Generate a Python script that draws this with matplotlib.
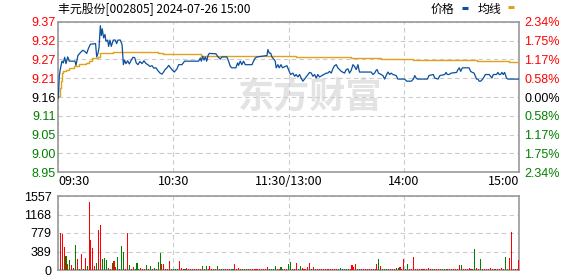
import numpy as np
import matplotlib
matplotlib.use('Agg')
import matplotlib.pyplot as plt
from matplotlib.lines import Line2D

# --- data ---
title = '丰元股份[002805] 2024-07-26 15:00'
prev_close = 9.16
price_range = 0.2143
price_ticklabels = ['8.95', '9.00', '9.05', '9.11', '9.16', '9.21', '9.27', '9.32', '9.37']
pct_ticklabels = ['2.34%', '1.75%', '1.17%', '0.58%', '0.00%', '0.58%', '1.17%', '1.75%', '2.34%']
time_ticks = [0, 60, 120, 180, 240]
time_labels = ['09:30', '10:30', '11:30/13:00', '14:00', '15:00']
vol_ticks = [0, 389, 779, 1168, 1557]

# price line vertices (minute from 09:30, price)
price_t = [0, 0.5, 1.0, 1.9, 2.6, 3.3, 4.0, 4.9, 5.7, 8.7, 9.2, 10.2, 11.3, 12.7, 13.7,
           14.8, 15.6, 16.7, 19.4, 20.0, 20.7, 21.2, 21.9, 22.4, 22.9, 23.6, 24.3, 24.8,
           25.7, 26.2, 26.9, 27.6, 28.6, 29.7, 30.4, 31.1, 32.3, 33.2, 33.9, 34.5, 35.2,
           36.1, 37.0, 37.8, 38.9, 39.8, 40.6, 41.5, 42.5, 43.6, 44.6, 45.7, 46.7, 47.7,
           48.8, 49.8, 50.9, 51.9, 53.0, 54.0, 54.7, 55.6, 56.6, 57.5, 58.3, 59.2, 60.4,
           61.8, 62.7, 64.4, 65.8, 73.1, 74.0, 74.5, 75.2, 75.9, 76.6, 77.3, 78.0, 78.6,
           82.1, 83.2, 84.4, 85.2, 87.8, 88.7, 89.6, 90.4, 92.5, 93.4, 93.9, 94.8, 95.6,
           96.5, 97.4, 100.9, 101.7, 102.6, 103.5, 108.7, 109.2, 109.9, 110.6, 111.3,
           112.2, 113.0, 113.5, 114.4, 115.1, 116.0, 116.8, 118.2, 119.1, 119.9,
           121.0, 122.2, 123.1, 123.9, 124.8, 125.7, 126.5, 127.4, 128.3, 129.1, 130.0,
           130.9, 131.8, 132.6, 133.5, 134.4, 135.2, 136.1, 138.4, 139.6, 140.4, 141.3,
           142.2, 143.0, 143.9, 144.8, 145.6, 146.5, 147.4, 149.1, 150.0, 150.9, 151.7,
           152.6, 153.5, 154.3, 155.2, 156.1, 156.9, 163.0, 163.9, 164.8, 165.6, 166.1,
           166.8, 167.5, 168.2, 169.1, 170.0, 170.8, 171.7, 172.6, 173.4, 174.3, 176.0,
           176.9, 180.4, 181.5, 183.9, 185.0, 185.7, 186.4, 187.1, 192.3, 193.1, 195.4,
           196.1, 197.8, 198.8, 201.3, 202.0, 202.7, 203.5, 204.7, 207.5, 208.2, 208.9,
           209.6, 210.5, 214.0, 214.8, 215.7, 216.6, 217.3, 217.9, 218.6, 219.3, 220.0,
           221.1, 221.8, 222.5, 224.5, 225.2, 225.9, 226.6, 228.3, 229.0, 229.7, 230.4,
           231.1, 231.8, 232.5, 233.5, 234.2, 240]
price_v = [9.157, 9.219, 9.238, 9.262, 9.257, 9.273, 9.255, 9.274, 9.262, 9.262, 9.250,
           9.278, 9.285, 9.293, 9.290, 9.284, 9.297, 9.310, 9.312, 9.274, 9.285, 9.300,
           9.363, 9.335, 9.354, 9.328, 9.338, 9.319, 9.322, 9.304, 9.322, 9.304, 9.322,
           9.322, 9.312, 9.322, 9.322, 9.309, 9.252, 9.265, 9.255, 9.263, 9.254, 9.263,
           9.273, 9.272, 9.257, 9.252, 9.261, 9.255, 9.263, 9.255, 9.252, 9.247, 9.249,
           9.242, 9.243, 9.235, 9.228, 9.225, 9.230, 9.238, 9.243, 9.250, 9.244, 9.238,
           9.231, 9.240, 9.252, 9.252, 9.262, 9.262, 9.271, 9.262, 9.276, 9.265, 9.274,
           9.262, 9.278, 9.284, 9.283, 9.274, 9.268, 9.274, 9.274, 9.262, 9.247, 9.243,
           9.243, 9.257, 9.250, 9.262, 9.252, 9.262, 9.252, 9.252, 9.262, 9.271, 9.274,
           9.278, 9.295, 9.285, 9.285, 9.274, 9.268, 9.262, 9.243, 9.252, 9.243, 9.252,
           9.243, 9.247, 9.249, 9.238,
           9.224, 9.228, 9.219, 9.224, 9.217, 9.224, 9.214, 9.205, 9.211, 9.217, 9.224,
           9.230, 9.228, 9.219, 9.224, 9.214, 9.224, 9.217, 9.224, 9.228, 9.228, 9.233,
           9.228, 9.240, 9.249, 9.252, 9.243, 9.238, 9.233, 9.228, 9.238, 9.240, 9.228,
           9.236, 9.252, 9.247, 9.238, 9.252, 9.231, 9.231, 9.224, 9.228, 9.236, 9.238,
           9.228, 9.226, 9.224, 9.221, 9.211, 9.221, 9.231, 9.224, 9.228, 9.224, 9.221,
           9.211, 9.211, 9.205, 9.205, 9.211, 9.221, 9.214, 9.211, 9.211, 9.221, 9.224,
           9.214, 9.211, 9.221, 9.224, 9.230, 9.224, 9.224, 9.228, 9.230, 9.238, 9.243,
           9.233, 9.243, 9.243, 9.233, 9.230, 9.228, 9.219, 9.211, 9.211, 9.205, 9.205,
           9.211, 9.217, 9.224, 9.224, 9.219, 9.214, 9.224, 9.224, 9.230, 9.224, 9.224,
           9.230, 9.224, 9.230, 9.214, 9.211, 9.211]

# average price line (drawn as steps)
avg_t = [0, 0.9, 1.4, 1.9, 2.6, 4.0, 5.7, 8.3, 10.9, 14.4, 16.1, 17.4, 20.5, 21.7, 23.1,
         28.3, 39.6, 51.7, 54.3, 74.5, 123.9, 152.6, 168.0, 185.0, 218.0, 235.0, 240]
avg_v = [9.162, 9.186, 9.205, 9.227, 9.233, 9.238, 9.242, 9.247, 9.253, 9.256, 9.263,
         9.271, 9.273, 9.284, 9.285, 9.288, 9.287, 9.284, 9.282, 9.278, 9.275, 9.272,
         9.268, 9.265, 9.263, 9.260, 9.260]

# volume per minute (minutes 1..240) and direction r=up g=down
volume = [785, 757, 484, 294, 126, 210, 105, 35, 526, 231,
          20, 336, 20, 252, 84, 1423, 631, 470, 84, 147,
          841, 946, 231, 252, 210, 42, 28, 147, 189, 63,
          273, 20, 505, 378, 20, 778, 105, 20, 63, 20,
          147, 20, 42, 20, 20, 105, 20, 84, 20, 42,
          20, 168, 357, 126, 126, 20, 30, 189, 20, 20,
          20, 28, 189, 42, 20, 20, 42, 20, 20, 20,
          20, 20, 20, 20, 84, 20, 84, 20, 84, 20,
          20, 20, 84, 20, 20, 20, 20, 20, 20, 20,
          20, 126, 20, 42, 20, 20, 20, 28, 20, 20,
          20, 20, 20, 20, 20, 20, 20, 20, 63, 20,
          20, 20, 84, 20, 20, 63, 20, 20, 20, 126,
          168, 20, 20, 147, 20, 84, 42, 20, 20, 63,
          147, 20, 63, 20, 20, 20, 20, 20, 20, 20,
          20, 20, 20, 20, 20, 20, 42, 20, 20, 20,
          20, 20, 105, 63, 126, 20, 20, 20, 20, 20,
          20, 20, 20, 20, 20, 126, 231, 84, 20, 20,
          20, 20, 20, 20, 20, 42, 42, 63, 20, 231,
          20, 126, 20, 20, 273, 20, 20, 20, 20, 20,
          20, 20, 42, 20, 20, 20, 20, 20, 20, 20,
          20, 20, 20, 20, 20, 20, 20, 20, 105, 105,
          20, 20, 20, 42, 20, 20, 441, 42, 20, 231,
          20, 20, 20, 20, 42, 20, 20, 20, 20, 20,
          42, 20, 273, 20, 252, 799, 20, 20, 20, 210]
direction = ('rrrgrgrrgr' 'grgrgrrrrg' 'rrgggrrgrr' 'grggrrgrrg' 'ggrrrgrgrg'
             'rggrrrrrgg' 'ggrrrgrrrr' 'rrrrgrgrrr' 'rrgrggrrrg' 'grrrrgggrr'
             'rrrrrrrrrg' 'gggrrgrrrg' 'grrrggrrrr' 'rgrgrrrrrr' 'rrrrrggggr'
             'grrrrggrrr' 'rrrrrrgrgg' 'grrrrggrrr' 'ggrrrrrrrr' 'rrrrgrrrrg'
             'ggrrrrrrrg' 'rrrrrggrrg' 'rrrrrrrgrr' 'rrggrrrrrr')

# --- figure ---
plt.rcParams['font.family'] = ['Liberation Sans', 'Noto Sans CJK SC', 'DejaVu Sans']
fig = plt.figure(figsize=(5.78, 2.76), dpi=100)
fig.patch.set_facecolor('white')

RED = '#ff0000'
GREEN = '#008000'
BORDER = '#999999'
GRID = '#cccccc'


def label_color(i, n):
    mid = n // 2
    if i > mid:
        return RED
    if i < mid:
        return GREEN
    return 'black'


ax = fig.add_axes([0.1009, 0.3757, 0.797, 0.5457])
ax.set_xlim(0, 240)
ax.set_ylim(prev_close - price_range, prev_close + price_range)
yt = np.linspace(prev_close - price_range, prev_close + price_range, len(price_ticklabels))
ax.set_yticks(yt)
ax.set_yticklabels(price_ticklabels, fontsize=9)
for i, lab in enumerate(ax.get_yticklabels()):
    lab.set_color(label_color(i, len(price_ticklabels)))
ax.set_xticks(time_ticks)
ax.set_xticklabels(time_labels, fontsize=9, family=['Noto Sans CJK SC', 'DejaVu Sans'])
xl = ax.get_xticklabels()
xl[0].set_ha('left')
xl[-1].set_ha('right')
ax.tick_params(axis='both', length=0)
ax.tick_params(axis='y', pad=2)
ax.tick_params(axis='x', pad=2)
ax.grid(True, color=GRID, linestyle=(0, (4, 3)), linewidth=0.8)
for s in ax.spines.values():
    s.set_color(BORDER)
    s.set_linewidth(1.2)

# watermark
ax.text(0.39, 0.50, '东方财富', transform=ax.transAxes, fontsize=26, fontweight='bold',
        color='#e3e3e3', family=['Noto Sans CJK SC'], va='center', ha='left', zorder=0)

ax.plot(avg_t, avg_v, color='#e0a21a', linewidth=1.0, drawstyle='steps-post', zorder=3)
ax.plot(price_t, price_v, color='#0b4f9e', linewidth=0.9, zorder=4)

ax2 = ax.twinx()
ax2.set_ylim(ax.get_ylim())
ax2.set_yticks(yt)
ax2.set_yticklabels(pct_ticklabels, fontsize=9)
for i, lab in enumerate(ax2.get_yticklabels()):
    lab.set_color(label_color(i, len(pct_ticklabels)))
ax2.tick_params(axis='y', length=0, pad=4)
for s in ax2.spines.values():
    s.set_visible(False)

# volume panel
axv = fig.add_axes([0.1009, 0.0217, 0.797, 0.2681])
minutes = np.arange(1, len(volume) + 1)
colors = [RED if c == 'r' else GREEN for c in direction]
axv.bar(minutes, volume, width=0.55, color=colors, linewidth=0, antialiased=False, zorder=3)
axv.set_xlim(0, 240)
axv.set_ylim(0, vol_ticks[-1])
axv.set_yticks(vol_ticks)
axv.set_yticklabels([str(v) for v in vol_ticks], fontsize=9)
axv.set_xticks(time_ticks)
axv.set_xticklabels([])
axv.tick_params(axis='both', length=0)
axv.tick_params(axis='y', pad=5)
axv.grid(True, color=GRID, linestyle=(0, (4, 3)), linewidth=0.8)
for s in axv.spines.values():
    s.set_color(BORDER)
    s.set_linewidth(1.2)

# title and legend
fig.text(58 / 578, 1 - 9 / 276, title, fontsize=8.6, va='center', ha='left',
         family=['Noto Sans CJK SC', 'DejaVu Sans'])
fig.text(431 / 578, 1 - 9 / 276, '价格', fontsize=8.6, va='center', ha='left',
         family=['Noto Sans CJK SC'])
fig.text(478 / 578, 1 - 9 / 276, '均线', fontsize=8.6, va='center', ha='left',
         family=['Noto Sans CJK SC'])
fig.add_artist(Line2D([462 / 578, 468 / 578], [1 - 8 / 276, 1 - 8 / 276],
                      color='#0b4f9e', linewidth=2.2, solid_capstyle='butt'))
fig.add_artist(Line2D([508 / 578, 514 / 578], [1 - 7 / 276, 1 - 7 / 276],
                      color='#e0a21a', linewidth=2.2, solid_capstyle='butt'))

fig.savefig('out.png', dpi=100, facecolor='white')
